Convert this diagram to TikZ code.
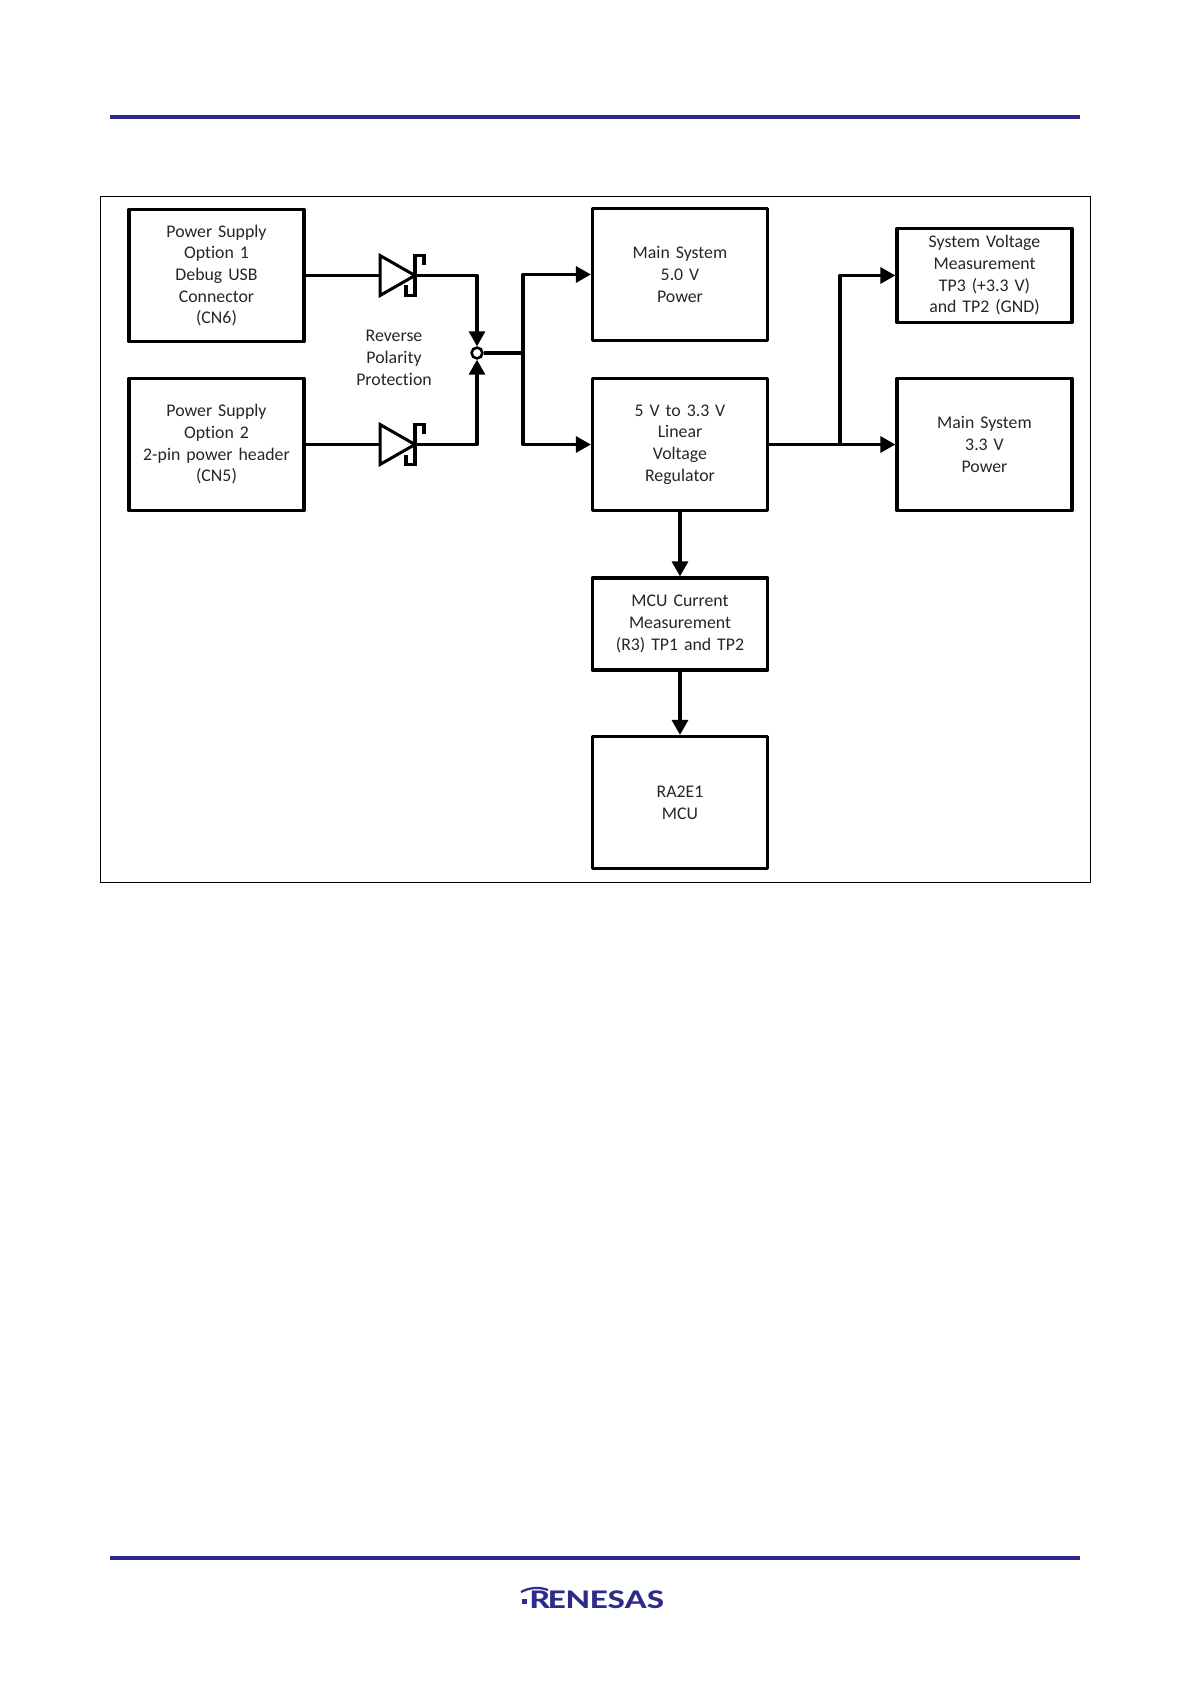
\documentclass[tikz,border=0pt]{standalone}
\usepackage{tikz}
\usepackage{xcolor}
\usepackage{fontspec}
\setmainfont[Ligatures=CommonOff]{Carlito}
\usetikzlibrary{arrows.meta,calc}
\definecolor{renblue}{HTML}{2E2A8C}
\tikzset{
	block/.style={draw, line width=1.6pt, line join=round, rectangle, inner sep=0pt, align=center, text width=82pt, minimum width=87.5pt, font=\fontsize{8.9}{10.85}\selectfont, text=black!85},
	note/.style={align=center, font=\fontsize{8.9}{10.85}\selectfont, text=black!85},
	wire/.style={line width=1.6pt, line join=round},
	arrowwire/.style={wire, -{Triangle[length=7.5pt,width=8pt]}}
}
\begin{document}
\begin{tikzpicture}[x=0.5pt,y=-0.5pt]
			\useasboundingbox (0,0) rectangle (1191,1684);
			\fill[white] (0,0) rectangle (1191,1684);

			% page rules
			\fill[renblue] (110,115) rectangle (1080,119);
			\fill[renblue] (110,1556) rectangle (1080,1560);

			% outer frame
			\draw[line width=0.5pt] (100.5,197) rectangle (1090,882);

			% supply blocks
			\node[block, minimum height=66pt] (usb) at (216.5,275.5) {Power Supply\\Option 1\\Debug USB\\Connector\\(CN6)};
			\node[block, minimum height=66pt] (header) at (216.5,444.5) {Power Supply\\Option 2\\2-pin power header\\(CN5)};

			% output blocks
			\node[block, minimum height=66pt] (five) at (680,274.5) {Main System\\5.0 V\\Power};
			\node[block, minimum height=66pt] (reg) at (680,444.5) {5 V to 3.3 V\\Linear\\Voltage\\Regulator};
			\node[block, minimum height=47pt] (sysv) at (984.5,275.5) {System Voltage\\Measurement\\TP3 (+3.3 V)\\and TP2 (GND)};
			\node[block, minimum height=66pt] (three) at (984.5,444.5) {Main System\\3.3 V\\Power};
			\node[block, minimum height=46pt] (meas) at (680,624) {MCU Current\\Measurement\\(R3) TP1 and TP2};
			\node[block, minimum height=66pt] (mcu) at (680,802.5) {RA2E1\\MCU};

			\node[note] (polarity) at (394,358) {Reverse\\Polarity\\Protection};

			% diodes
			\coordinate (dioa) at (380,275.5);
			\coordinate (dioak) at (415,275.5);
			\coordinate (diob) at (380,444.5);
			\coordinate (diobk) at (415,444.5);
			\foreach \d in {dioa,diob} {
				\draw[line width=1.5pt, line join=miter] ($(\d)+(0,-20)$) -- ($(\d)+(35,0)$) -- ($(\d)+(0,20)$) -- cycle;
				\draw[line width=1.6pt] ($(\d)+(44,-10)$) -- ($(\d)+(44,-20)$) -- ($(\d)+(35,-20)$) -- ($(\d)+(35,20)$) -- ($(\d)+(26,20)$) -- ($(\d)+(26,10)$);
			}

			% junctions
			\node[circle, draw, line width=1.3pt, minimum size=5.4pt, inner sep=0pt, fill=white] (join) at (477,353) {};
			\coordinate (bus) at (523,353);
			\coordinate (tap) at (840,444.5);

			% Connecting lines
			\draw[wire] (usb.east |- dioa) -- (dioa);
			\draw[wire] (header.east |- diob) -- (diob);
			\draw[arrowwire] (dioak) -| (join.north);
			\draw[arrowwire] (diobk) -| (join.south);
			\draw[wire] (join) -- (bus);
			\draw[arrowwire] (bus) |- (five.west);
			\draw[arrowwire] (bus) |- (reg.west);
			\draw[arrowwire] (reg.east) -- (three.west);
			\draw[arrowwire] (tap) |- (sysv.west);
			\draw[arrowwire] (reg.south) -- (meas.north);
			\draw[arrowwire] (meas.south) -- (mcu.north);

			% logo
			\node[inner sep=0pt, text=renblue, font=\fontsize{13.5}{14}\bfseries\selectfont] (renesas) at (597,1600) {\addfontfeature{FakeStretch=1.36}R\kern-1.2pt ENESAS};
			\fill[renblue] (522,1599) rectangle (527,1604);
			\draw[renblue, line width=1.1pt] (521,1592) .. controls (530,1587) and (540,1587) .. (548,1590);
		\end{tikzpicture}
\end{document}
